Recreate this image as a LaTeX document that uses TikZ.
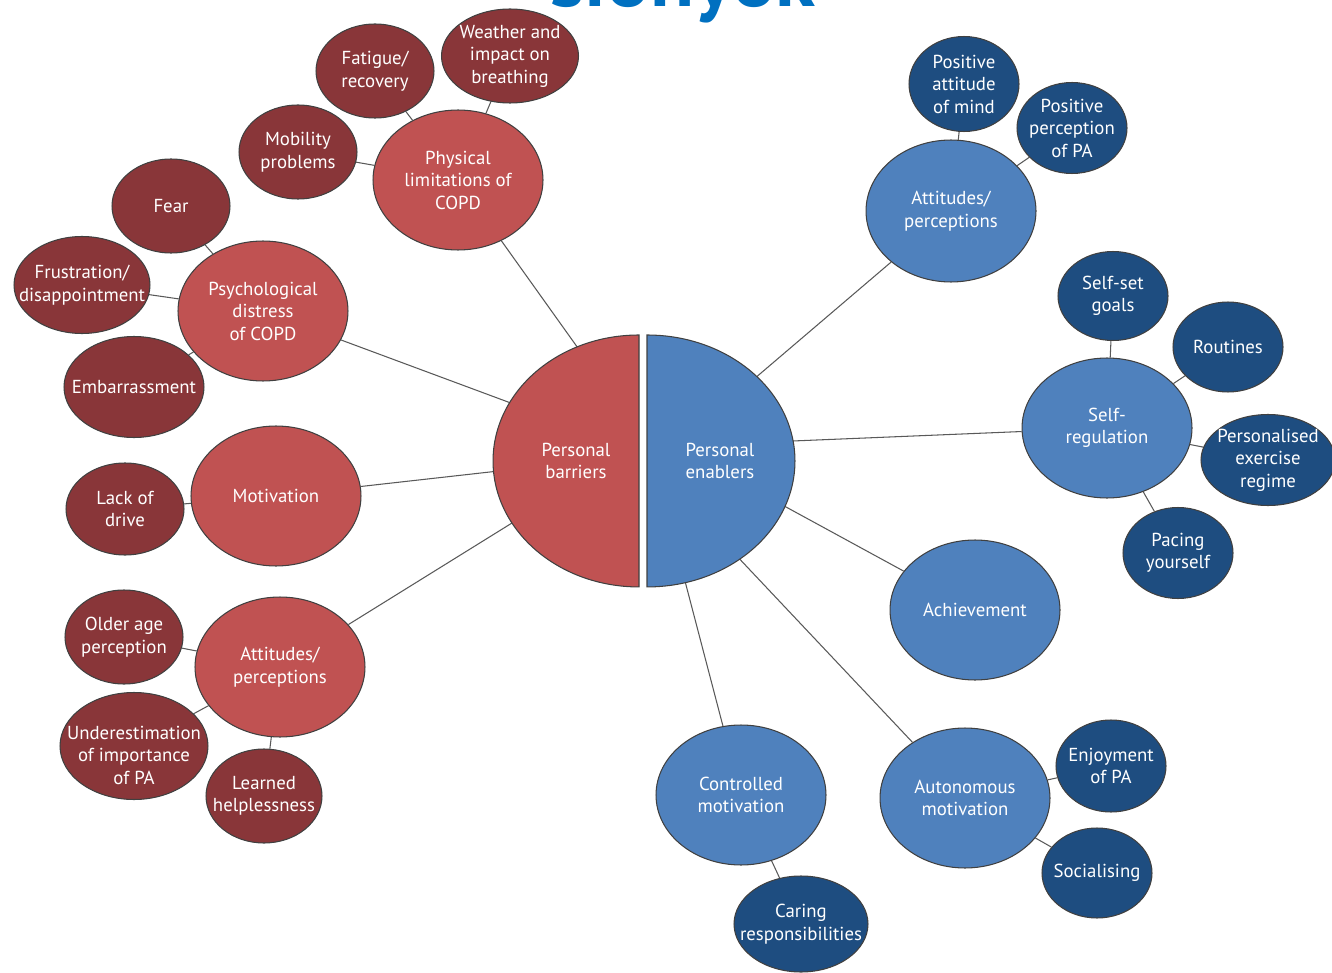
\documentclass[tikz,border=0pt]{standalone}
\usepackage{fontspec}
\setmainfont{PT Sans}
\usepackage{xcolor}
\usetikzlibrary{shapes.geometric,calc}
\definecolor{BarrierRed}{RGB}{192,82,82}
\definecolor{BarrierDark}{RGB}{137,54,57}
\definecolor{EnablerBlue}{RGB}{79,129,189}
\definecolor{EnablerDark}{RGB}{30,77,128}
\definecolor{TitleBlue}{RGB}{0,112,192}
\pgfdeclarelayer{bg}
\pgfsetlayers{bg,main}

\begin{document}
\begin{tikzpicture}[x=0.02cm, y=-0.02cm,
  every label/.style={text=white, align=center, font=\fontsize{10.7}{12.8}\selectfont},
  bubble/.style={ellipse, draw=black!75, line width=0.6pt, inner sep=0pt},
  hubred/.style={bubble, fill=BarrierRed, minimum width=3.4cm, minimum height=2.8cm},
  leafred/.style={bubble, fill=BarrierDark, minimum width=2.36cm, minimum height=1.88cm},
  hubblue/.style={bubble, fill=EnablerBlue, minimum width=3.4cm, minimum height=2.8cm},
  leafblue/.style={bubble, fill=EnablerDark, minimum width=2.2cm, minimum height=1.82cm},
  coretxt/.style={text=white, align=center, font=\fontsize{10.7}{12.8}\selectfont},
  link/.style={draw=black!65, line width=0.6pt}]
\useasboundingbox (0,0) rectangle (1332,973);

% cut-off heading
\node[anchor=base, text=TitleBlue, font=\bfseries\fontsize{46}{46}\selectfont] (heading) at (683,7) {sionyok};

% centre
\path[fill=BarrierRed, draw=black!75, line width=0.6pt] (639,335) arc[start angle=90, end angle=270, x radius=2.92cm, y radius=2.52cm] -- cycle;
\path[fill=EnablerBlue, draw=black!75, line width=0.6pt] (647,335) arc[start angle=90, end angle=-90, x radius=2.96cm, y radius=2.52cm] -- cycle;
\node[coretxt] (barriers) at (576,461) {Personal\\barriers};
\node[coretxt] (enablers) at (720,461) {Personal\\enablers};
\coordinate (core-a) at (615,400);
\coordinate (core-b) at (570,425);
\coordinate (core-c) at (570,463);
\coordinate (core-d) at (570,487);
\coordinate (core-e) at (720,408);
\coordinate (core-f) at (720,444);
\coordinate (core-g) at (720,471);
\coordinate (core-h) at (700,517);
\coordinate (core-i) at (669,520);

% barriers
\node[hubred, label={center:{Physical\\limitations of\\COPD}}] (phys) at (458,180) {};
\node[hubred, label={center:{Psychological\\distress\\of COPD}}] (psych) at (263,311) {};
\node[hubred, label={center:Motivation}] (motiv) at (276,496) {};
\node[hubred, label={center:{Attitudes/\\perceptions}}] (attL) at (280,667) {};

\node[leafred, minimum width=2.74cm, label={center:{Weather and\\impact on\\breathing}}] (weather) at (510,56) {};
\node[leafred, label={center:{Fatigue/\\recovery}}] (fatigue) at (375,71) {};
\node[leafred, label={center:{Mobility\\problems}}] (mobility) at (298,152) {};
\node[leafred, label={center:Fear}] (fear) at (171,206) {};
\node[leafred, minimum width=2.72cm, minimum height=1.94cm, label={center:{Frustration/\\disappointment}}] (frustr) at (82,285) {};
\node[leafred, minimum width=2.8cm, minimum height=2.02cm, label={center:Embarrassment}] (embarr) at (134,387) {};
\node[leafred, minimum height=1.84cm, label={center:{Lack of\\drive}}] (drive) at (125,509) {};
\node[leafred, label={center:{Older age\\perception}}] (older) at (124,637) {};
\node[leafred, minimum width=2.96cm, minimum height=2.14cm, label={[yshift=-0.18cm]center:{Underestimation\\of importance\\of PA}}] (underest) at (134,746) {};
\node[leafred, minimum width=2.32cm, label={center:{Learned\\helplessness}}] (learned) at (264,796) {};

% enablers
\node[hubblue, minimum height=2.84cm, label={center:{Attitudes/\\perceptions}}] (attR) at (951,211) {};
\node[hubblue, label={center:{Self-\\regulation}}] (selfreg) at (1107,428) {};
\node[hubblue, label={center:Achievement}] (achieve) at (975,610) {};
\node[hubblue, label={center:{Autonomous\\motivation}}] (auton) at (965,798) {};
\node[hubblue, label={center:{Controlled\\motivation}}] (contr) at (741,795) {};

\node[leafblue, minimum height=1.9cm, label={center:{Positive\\attitude\\of mind}}] (posmind) at (964,84) {};
\node[leafblue, label={center:{Positive\\perception\\of PA}}] (posperc) at (1072,128) {};
\node[leafblue, minimum height=1.78cm, label={center:{Self-set\\goals}}] (goals) at (1113,296) {};
\node[leafblue, minimum height=1.8cm, label={center:Routines}] (routines) at (1228,347) {};
\node[leafblue, minimum width=2.68cm, label={center:{Personalised\\exercise\\regime}}] (regime) at (1268,460) {};
\node[leafblue, label={center:{Pacing\\yourself}}] (pacing) at (1178,553) {};
\node[leafblue, minimum height=1.84cm, label={center:{Enjoyment\\of PA}}] (enjoy) at (1111,766) {};
\node[leafblue, minimum height=1.8cm, label={center:Socialising}] (social) at (1097,873) {};
\node[leafblue, minimum width=2.68cm, minimum height=1.92cm, label={center:{Caring\\responsibilities}}] (caring) at (801,924) {};

% connectors
\begin{pgfonlayer}{bg}
\draw[link] (phys) -- (core-a);
\draw[link] (psych) -- (core-b);
\draw[link] (motiv) -- (core-c);
\draw[link] (attL) -- (core-d);
\draw[link] (attR) -- (core-e);
\draw[link] (selfreg) -- (core-f);
\draw[link] (achieve) -- (core-g);
\draw[link] (auton) -- (core-h);
\draw[link] (contr) -- (core-i);

\draw[link] (phys) -- (weather);
\draw[link] (phys) -- (fatigue);
\draw[link] (phys) -- (mobility);
\draw[link] (psych) -- (fear);
\draw[link] (psych) -- (frustr);
\draw[link] (psych) -- (embarr);
\draw[link] (motiv) -- (drive);
\draw[link] (attL) -- (older);
\draw[link] (attL) -- (underest);
\draw[link] (attL) -- (learned);

\draw[link] (attR) -- (posmind);
\draw[link] (attR) -- (posperc);
\draw[link] (selfreg) -- (goals);
\draw[link] (selfreg) -- (routines);
\draw[link] (selfreg) -- (regime);
\draw[link] (selfreg) -- (pacing);
\draw[link] (auton) -- (enjoy);
\draw[link] (auton) -- (social);
\draw[link] (contr) -- (caring);
\end{pgfonlayer}
\end{tikzpicture}
\end{document}
